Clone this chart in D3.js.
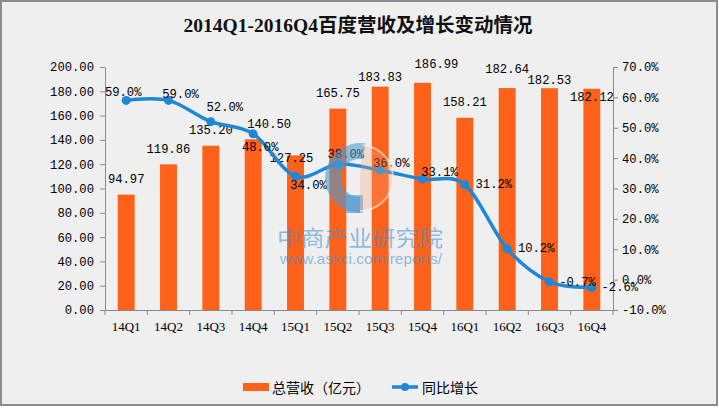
<!DOCTYPE html>
<html>
<head>
<meta charset="utf-8">
<script src="https://cdn.jsdelivr.net/npm/d3@7"></script>
<style>
html,body{margin:0;padding:0;background:#fff;}
svg{display:block;}
</style>
</head>
<body>
<svg id="chart" width="719" height="408"></svg>
<script>
// ---- data ----
const categories = ["14Q1","14Q2","14Q3","14Q4","15Q1","15Q2","15Q3","15Q4","16Q1","16Q2","16Q3","16Q4"];
const revenue = [94.97,119.86,135.20,140.50,127.25,165.75,183.83,186.99,158.21,182.64,182.53,182.12];
const growth = [59.0,59.0,52.0,48.0,34.0,38.0,36.0,33.1,31.2,10.2,-0.7,-2.6];
const leftTicks = [0,20,40,60,80,100,120,140,160,180,200];
const rightTicks = [-10,0,10,20,30,40,50,60,70];
const title = "2014Q1-2016Q4百度营收及增长变动情况";
const seriesNames = ["总营收（亿元）","同比增长"];

// ---- layout (label nudges, as placed in the reference) ----
const barLabelNudge = [[0,-15],[0,-14],[0,-15],[16,-14],[-4,4],[0,-15],[0,-9],[14,-18],[0,-15],[0,-18],[0,-7],[0,9]];
const pctLabelNudge = [[-3,-7],[12,-5],[14,-14],[7,14],[13,10],[8,-9],[11,-6],[17,-6],[29,0],[29,0],[28,1],[28,0]];

const W = 719, H = 408;
const plot = {left:105, right:613, top:67, bottom:310};
const orange = "#fe6119", blue = "#1f87d6", axisGray = "#8a8a8a";
const monoFont = "'Liberation Mono','DejaVu Sans Mono',monospace";

const svg = d3.select("#chart");
svg.append("rect").attr("x",1).attr("y",1).attr("width",W-3).attr("height",H-4)
  .attr("fill","#efefef").attr("stroke","#8c8c8c").attr("stroke-width",2);

const x = d3.scaleBand().domain(categories).range([plot.left, plot.right]);
const yL = d3.scaleLinear().domain([0,200]).range([plot.bottom, plot.top]);
const yR = d3.scaleLinear().domain([-10,70]).range([plot.bottom, plot.top]);
const barW = x.bandwidth()*0.4;
const cx = c => x(c) + x.bandwidth()/2;

// title
svg.append("text").attr("x",358).attr("y",25).attr("text-anchor","middle")
  .attr("dominant-baseline","central")
  .style("font-family","'Liberation Serif','Noto Sans CJK SC',serif")
  .style("font-size","19.5px").style("font-weight","bold").attr("fill","#111")
  .text(title);

// axes
const gL = svg.append("g").attr("transform",`translate(${plot.left},0)`)
  .call(d3.axisLeft(yL).tickValues(leftTicks).tickFormat(d3.format(".2f")).tickSize(5).tickSizeOuter(0).tickPadding(6));
const gR = svg.append("g").attr("transform",`translate(${plot.right},0)`)
  .call(d3.axisRight(yR).tickValues(rightTicks).tickFormat(d=>d.toFixed(1)+"%").tickSize(5).tickSizeOuter(0).tickPadding(4));
const gX = svg.append("g").attr("transform",`translate(0,${plot.bottom})`)
  .call(d3.axisBottom(x).tickSize(0).tickSizeOuter(0).tickPadding(12));
[gL,gR,gX].forEach(g=>{
  g.selectAll(".domain").attr("stroke",axisGray);
  g.selectAll(".tick line").attr("stroke",axisGray);
  g.selectAll("text").attr("fill","#000").style("font-family",monoFont).style("font-size","12.2px");
});
gX.selectAll("text").style("font-family","'Liberation Serif',serif").style("font-size","13px");
// category boundary ticks
const bounds = categories.map(c=>x(c)).concat([plot.right]);
svg.append("g").selectAll("line").data(bounds).join("line")
  .attr("x1",d=>d).attr("x2",d=>d).attr("y1",plot.bottom).attr("y2",plot.bottom+5)
  .attr("stroke",axisGray);

// bars
svg.append("g").selectAll("rect").data(revenue).join("rect")
  .attr("x",(d,i)=>cx(categories[i]) - barW/2)
  .attr("width",barW)
  .attr("y",d=>yL(d))
  .attr("height",d=>plot.bottom - yL(d))
  .attr("fill",orange);

// bar labels
svg.append("g").selectAll("text").data(revenue).join("text")
  .attr("x",(d,i)=>cx(categories[i]) + barLabelNudge[i][0])
  .attr("y",(d,i)=>yL(d) + barLabelNudge[i][1])
  .attr("text-anchor","middle").attr("dominant-baseline","central")
  .style("font-family",monoFont).style("font-size","12.2px").attr("fill","#000")
  .text(d=>d.toFixed(2));

// line
const line = d3.line().x((d,i)=>cx(categories[i])).y(d=>yR(d)).curve(d3.curveCardinal.tension(0));
svg.append("path").datum(growth).attr("d",line).attr("fill","none")
  .attr("stroke",blue).attr("stroke-width",3.5).attr("stroke-linejoin","round");
svg.append("g").selectAll("circle").data(growth).join("circle")
  .attr("cx",(d,i)=>cx(categories[i])).attr("cy",d=>yR(d)).attr("r",4.5).attr("fill",blue);

// percent labels
svg.append("g").selectAll("text").data(growth).join("text")
  .attr("x",(d,i)=>cx(categories[i]) + pctLabelNudge[i][0])
  .attr("y",(d,i)=>yR(d) + pctLabelNudge[i][1])
  .attr("text-anchor","middle").attr("dominant-baseline","central")
  .style("font-family",monoFont).style("font-size","12.2px").attr("fill","#000")
  .text(d=>d.toFixed(1)+"%");

// watermark
const wm = svg.append("g");
const lc = [360,178];
const arcBlue = d3.arc().innerRadius(19).outerRadius(35).startAngle(Math.PI*1.0).endAngle(Math.PI*2.05);
wm.append("path").attr("d",arcBlue).attr("transform",`translate(${lc[0]},${lc[1]})`)
  .attr("fill","#4f97d0").attr("opacity",0.6);
wm.append("rect").attr("x",lc[0]-14).attr("y",lc[1]+17).attr("width",17).attr("height",18)
  .attr("fill","#4f97d0").attr("opacity",0.6);
const arcRight = d3.arc().innerRadius(0).outerRadius(34).startAngle(0.08).endAngle(Math.PI);
wm.append("path").attr("d",arcRight).attr("transform",`translate(${lc[0]},${lc[1]})`)
  .attr("fill","#f3a27c").attr("opacity",0.3);
const arcRing = d3.arc().innerRadius(32).outerRadius(34).startAngle(0.08).endAngle(Math.PI);
wm.append("path").attr("d",arcRing).attr("transform",`translate(${lc[0]},${lc[1]})`)
  .attr("fill","#ffffff").attr("opacity",0.5);
wm.append("text").attr("x",277).attr("y",236).attr("dominant-baseline","central")
  .attr("textLength",166).attr("lengthAdjust","spacingAndGlyphs")
  .style("font-family","'Noto Sans CJK SC',sans-serif").style("font-size","22px")
  .attr("fill","#3f8fd0").attr("opacity",0.55).text("中商产业研究院");
wm.append("text").attr("x",280).attr("y",259).attr("dominant-baseline","central")
  .attr("textLength",162).attr("lengthAdjust","spacingAndGlyphs")
  .style("font-family","'Liberation Sans',Arial,sans-serif").style("font-size","14.5px")
  .attr("fill","#3f8fd0").attr("opacity",0.55).text("www.askci.com/reports/");

// legend
const lg = svg.append("g");
lg.append("rect").attr("x",243).attr("y",383).attr("width",26).attr("height",8).attr("fill",orange);
lg.append("text").attr("x",272).attr("y",387).attr("dominant-baseline","central")
  .style("font-family","'Noto Sans CJK SC',sans-serif").style("font-size","14px").attr("fill","#000")
  .text(seriesNames[0]);
lg.append("line").attr("x1",392).attr("x2",418).attr("y1",387).attr("y2",387)
  .attr("stroke",blue).attr("stroke-width",3.5);
lg.append("circle").attr("cx",405).attr("cy",387).attr("r",4).attr("fill",blue);
lg.append("text").attr("x",422).attr("y",387).attr("dominant-baseline","central")
  .style("font-family","'Noto Sans CJK SC',sans-serif").style("font-size","14px").attr("fill","#000")
  .text(seriesNames[1]);
</script>
</body>
</html>
